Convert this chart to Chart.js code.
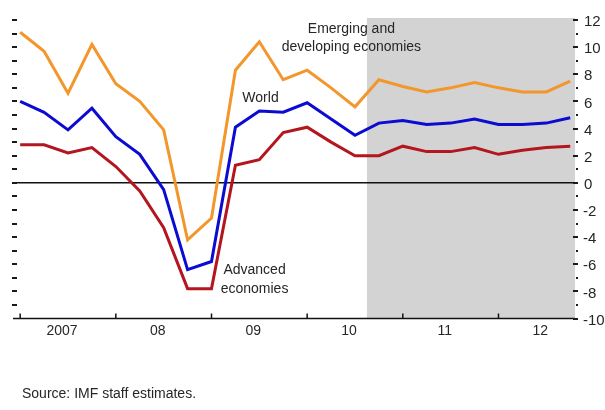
<!DOCTYPE html>
<html>
<head>
<meta charset="utf-8">
<script src="https://cdn.jsdelivr.net/npm/chart.js@4/dist/chart.umd.min.js"></script>
<style>
  html, body { margin: 0; padding: 0; background: #ffffff; }
  #wrap { width: 605px; height: 410px; }
</style>
</head>
<body>
<div id="wrap"><canvas id="growth" width="605" height="410"></canvas></div>
<script>
// Quarterly real GDP growth (annualized, percent), 2007Q1 - 2012Q4
const quarters = [
  '2007Q1','2007Q2','2007Q3','2007Q4',
  '2008Q1','2008Q2','2008Q3','2008Q4',
  '2009Q1','2009Q2','2009Q3','2009Q4',
  '2010Q1','2010Q2','2010Q3','2010Q4',
  '2011Q1','2011Q2','2011Q3','2011Q4',
  '2012Q1','2012Q2','2012Q3','2012Q4'
];
const emerging = [11.1, 9.7, 6.6, 10.2, 7.3, 6.0, 3.9, -4.2, -2.6, 8.3, 10.4, 7.6,
                  8.3, 7.0, 5.6, 7.6, 7.1, 6.7, 7.0, 7.4, 7.0, 6.7, 6.7, 7.5];
const world    = [6.0, 5.2, 3.9, 5.5, 3.4, 2.1, -0.5, -6.4, -5.8, 4.1, 5.3, 5.2,
                  5.9, 4.7, 3.5, 4.4, 4.6, 4.3, 4.4, 4.7, 4.3, 4.3, 4.4, 4.8];
const advanced = [2.8, 2.8, 2.2, 2.6, 1.2, -0.6, -3.3, -7.8, -7.8, 1.3, 1.7, 3.7,
                  4.1, 3.0, 2.0, 2.0, 2.7, 2.3, 2.3, 2.6, 2.1, 2.4, 2.6, 2.7];

// Axis labels
const yearLabels = ['2007', '08', '09', '10', '11', '12'];
const yTickLabels = [12, 10, 8, 6, 4, 2, 0, -2, -4, -6, -8, -10];

// Projection period starts mid-way through 2010Q3 (quarter index)
const projectionStart = 14.5;

const FONT = '"Liberation Sans", Arial, sans-serif';
const TEXT = '#262626';

function toPoints(values) {
  return values.map((v, i) => ({ x: i, y: v }));
}

const decorations = {
  id: 'decorations',
  beforeDatasetsDraw(chart) {
    const { ctx, chartArea: a, scales: { x, y } } = chart;
    ctx.save();
    // shaded projection period
    const sx = x.getPixelForValue(projectionStart);
    ctx.fillStyle = '#d3d3d3';
    ctx.fillRect(sx, a.top - 2, a.right - sx, a.bottom - a.top + 2);
    // zero line
    const zy = y.getPixelForValue(0);
    ctx.strokeStyle = '#111';
    ctx.lineWidth = 1.5;
    ctx.beginPath();
    ctx.moveTo(a.left, zy);
    ctx.lineTo(a.right, zy);
    ctx.stroke();
    ctx.restore();
  },
  afterDatasetsDraw(chart) {
    const { ctx, chartArea: a, scales: { x, y } } = chart;
    ctx.save();
    const by = y.getPixelForValue(-10);

    // bottom axis
    ctx.strokeStyle = '#111';
    ctx.lineWidth = 1.5;
    ctx.beginPath();
    ctx.moveTo(a.left, by);
    ctx.lineTo(a.right, by);
    ctx.stroke();

    // year ticks and labels
    ctx.fillStyle = TEXT;
    ctx.font = '14px ' + FONT;
    ctx.textAlign = 'center';
    ctx.textBaseline = 'middle';
    yearLabels.forEach((lab, k) => {
      const tx = x.getPixelForValue(k * 4);
      ctx.lineWidth = 1.5;
      ctx.beginPath();
      ctx.moveTo(tx, by);
      ctx.lineTo(tx, by - 5);
      ctx.stroke();
      ctx.fillText(lab, x.getPixelForValue(k * 4 + 1.75), by + 13);
    });

    // left-hand ticks, one per unit
    ctx.fillStyle = '#1a1a1a';
    for (let v = 12; v >= -9; v--) {
      const ty = Math.round(y.getPixelForValue(v));
      ctx.fillRect(a.left - 1, ty - 1, 5, 2);
    }

    // right-hand ticks and labels
    for (let v = 12; v >= -10; v--) {
      const ty = Math.round(y.getPixelForValue(v));
      if (v % 2 === 0) ctx.fillRect(a.right - 2, ty - 1, 5, 2);
      else ctx.fillRect(a.right + 1, ty - 1, 2, 2);
    }
    ctx.fillStyle = TEXT;
    ctx.textAlign = 'left';
    ctx.font = '15px ' + FONT;
    yTickLabels.forEach(v => {
      ctx.fillText(String(v), a.right + (v < 0 ? 8 : 9), y.getPixelForValue(v) + 2);
    });

    // series annotations
    ctx.textAlign = 'center';
    ctx.font = '14px ' + FONT;
    const ex = x.getPixelForValue(13.85), ey = y.getPixelForValue(11.3);
    ctx.fillText('Emerging and', ex, ey);
    ctx.fillText('developing economies', ex, ey + 18);
    ctx.fillText('World', x.getPixelForValue(10.05), y.getPixelForValue(6.25));
    const ax = x.getPixelForValue(9.8), ay = y.getPixelForValue(-6.4);
    ctx.fillText('Advanced', ax, ay);
    ctx.fillText('economies', ax, ay + 19);

    // source note
    ctx.textAlign = 'left';
    ctx.font = '14px ' + FONT;
    ctx.fillText('Source: IMF staff estimates.', 22, 394);
    ctx.restore();
  }
};

new Chart(document.getElementById('growth'), {
  type: 'line',
  data: {
    labels: quarters,
    datasets: [
      { label: 'Emerging and developing economies', data: toPoints(emerging), borderColor: '#f3962c' },
      { label: 'World', data: toPoints(world), borderColor: '#0b0bd2' },
      { label: 'Advanced economies', data: toPoints(advanced), borderColor: '#b3161e' }
    ].map(d => Object.assign(d, { borderWidth: 3, pointRadius: 0, tension: 0, fill: false }))
  },
  options: {
    responsive: false,
    devicePixelRatio: 1,
    animation: false,
    layout: { padding: { left: 13, right: 30, top: 20, bottom: 91.5 } },
    scales: {
      x: { type: 'linear', min: -0.3, max: 23.2, display: false },
      y: { min: -10, max: 12, display: false }
    },
    plugins: { legend: { display: false }, tooltip: { enabled: false } }
  },
  plugins: [decorations]
});
</script>
</body>
</html>
